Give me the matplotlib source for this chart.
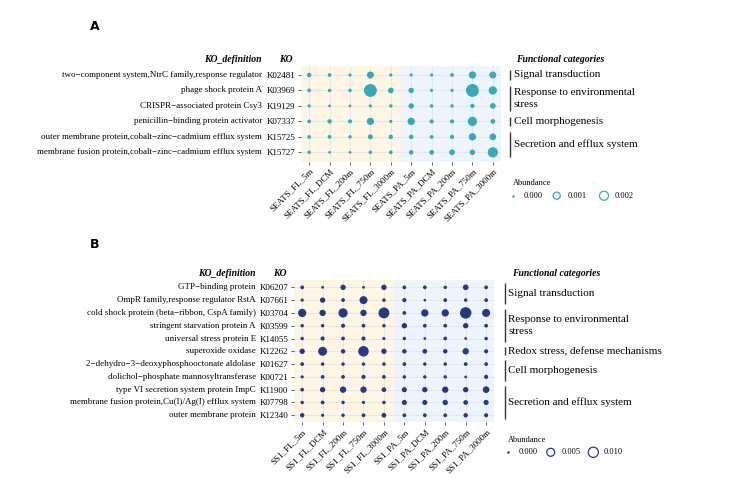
import numpy as np
import matplotlib
matplotlib.use('Agg')
import matplotlib.pyplot as plt
from matplotlib.transforms import blended_transform_factory

plt.rcParams['font.family'] = ['Liberation Serif', 'DejaVu Serif']

# ---- panel A data (abundance, in units of 1e-3) ----
samples_a = ['SEATS_FL_5m', 'SEATS_FL_DCM', 'SEATS_FL_200m', 'SEATS_FL_750m', 'SEATS_FL_3000m',
             'SEATS_PA_5m', 'SEATS_PA_DCM', 'SEATS_PA_200m', 'SEATS_PA_750m', 'SEATS_PA_3000m']
kos_a = ['K02481', 'K03969', 'K19129', 'K07337', 'K15725', 'K15727']
defs_a = ['two\u2212component system,NtrC family,response regulator',
          'phage shock protein A',
          'CRISPR\u2212associated protein Csy3',
          'penicillin\u2212binding protein activator',
          'outer membrane protein,cobalt\u2212zinc\u2212cadmium efflux system',
          'membrane fusion protein,cobalt\u2212zinc\u2212cadmium efflux system']
vals_a = [
    [0.18, 0.075, 0.022, 0.98, 0.022, 0.022, 0.022, 0.075, 1.11, 0.98],
    [0.075, 0.044, 0.044, 5.1, 0.48, 0.40, 0.022, 0.022, 5.1, 1.6],
    [0.022, 0.004, 0.004, 0.022, 0.044, 0.40, 0.044, 0.044, 0.13, 0.48],
    [0.075, 0.18, 0.13, 1.11, 0.022, 1.11, 0.13, 0.13, 2.18, 0.235],
    [0.075, 0.075, 0.044, 0.28, 0.18, 0.18, 0.075, 0.13, 1.11, 0.82],
    [0.044, 0.004, 0.004, 0.044, 0.075, 0.18, 0.235, 0.48, 0.40, 2.84],
]
cats_a = [('Signal transduction', 0, 0),
          ('Response to environmental\nstress', 1, 2),
          ('Cell morphogenesis', 3, 3),
          ('Secretion and efflux system', 4, 5)]
breaks_a = [0.0, 0.001, 0.002]

# ---- panel B data (abundance, in units of 1e-3) ----
samples_b = ['SS1_FL_5m', 'SS1_FL_DCM', 'SS1_FL_200m', 'SS1_FL_750m', 'SS1_FL_3000m',
             'SS1_PA_5m', 'SS1_PA_DCM', 'SS1_PA_200m', 'SS1_PA_750m', 'SS1_PA_3000m']
kos_b = ['K06207', 'K07661', 'K03704', 'K03599', 'K14055', 'K12262',
         'K01627', 'K00721', 'K11900', 'K07798', 'K12340']
defs_b = ['GTP\u2212binding protein',
          'OmpR family,response regulator RstA',
          'cold shock protein (beta\u2212ribbon, CspA family)',
          'stringent starvation protein A',
          'universal stress protein E',
          'superoxide oxidase',
          '2\u2212dehydro\u22123\u2212deoxyphosphooctonate aldolase',
          'dolichol\u2212phosphate mannosyltransferase',
          'type VI secretion system protein ImpC',
          'membrane fusion protein,Cu(I)/Ag(I) efflux system',
          'outer membrane protein']
vals_b = [
    [0.264, 0.014, 1.41, 0.014, 1.41, 0.264, 0.264, 0.156, 1.70, 0.264],
    [0.077, 1.41, 0.264, 5.08, 0.156, 0.45, 0.005, 0.264, 0.156, 0.264],
    [5.6, 2.5, 7.66, 2.5, 11.8, 0.264, 3.9, 3.9, 13.5, 5.08],
    [0.156, 0.156, 0.45, 0.264, 0.156, 1.41, 0.264, 0.264, 1.41, 0.264],
    [0.156, 0.45, 0.264, 0.45, 0.077, 0.156, 0.014, 0.264, 0.014, 0.156],
    [1.41, 7.0, 0.625, 10.8, 1.41, 0.625, 0.83, 0.625, 2.5, 0.45],
    [0.264, 0.156, 0.156, 0.156, 0.156, 0.264, 0.156, 0.156, 0.264, 0.264],
    [0.077, 0.264, 0.264, 0.45, 0.264, 0.156, 0.156, 0.156, 0.014, 0.45],
    [0.264, 1.41, 2.5, 2.5, 0.83, 1.14, 1.41, 2.5, 1.41, 2.89],
    [0.156, 0.264, 0.156, 0.077, 0.156, 1.14, 1.14, 1.41, 0.83, 1.14],
    [0.625, 0.077, 0.156, 0.264, 0.83, 0.264, 0.264, 0.264, 0.625, 0.45],
]
cats_b = [('Signal transduction', 0, 1),
          ('Response to environmental\nstress', 2, 4),
          ('Redox stress, defense mechanisms', 5, 5),
          ('Cell morphogenesis', 6, 7),
          ('Secretion and efflux system', 8, 10)]
breaks_b = [0.0, 0.005, 0.010]

W, H = 734, 483
fig = plt.figure(figsize=(W / 100, H / 100), dpi=100)
ov = fig.add_axes([0, 0, 1, 1], zorder=5)
ov.set_xlim(0, W)
ov.set_ylim(H, 0)
ov.axis('off')

CREAM = '#FDF6E4'
PALE = '#EDF4FB'


def dot_size(v, k):
    # diameter in px grows with sqrt(abundance), converted to points^2
    d = 2.5 + k * np.sqrt(np.asarray(v))
    return (d * 0.72) ** 2


def panel(box, samples, kos, defs, vals, cats, breaks, color, k, lay):
    left, top, right, bottom, ypad = box
    ax = fig.add_axes([left / W, 1 - bottom / H, (right - left) / W, (bottom - top) / H])
    n = len(kos)
    ax.set_xlim(-0.4, len(samples) - 0.6)
    ax.set_ylim(n - 1 + ypad, -ypad)
    ax.axvspan(-0.4, 4.5, color=CREAM, zorder=0, lw=0)
    ax.axvspan(4.5, len(samples) - 0.6, color=PALE, zorder=0, lw=0)
    ax.set_axisbelow(True)
    ax.grid(color='#E4E4E4', lw=0.6)
    ab = np.array(vals) * 1e-3
    xx, yy = np.meshgrid(np.arange(len(samples)), np.arange(n))
    ax.scatter(xx.ravel(), yy.ravel(), s=dot_size(ab.ravel(), k), color=color, lw=0, zorder=3)
    ax.set_xticks(range(len(samples)))
    ax.set_xticklabels(samples, rotation=45, ha='right', va='top', rotation_mode='anchor', fontsize=6.5)
    ax.set_yticks(range(n))
    ax.set_yticklabels(kos, fontsize=6.5)
    ax.tick_params(length=2.5, width=0.6, color='#444444', pad=1.5)
    for s in ax.spines.values():
        s.set_visible(False)

    tr = blended_transform_factory(ov.transData, ax.transData)
    for i, d in enumerate(defs):
        ov.text(lay['def_x'], i, d, transform=tr, ha='right', va='center', fontsize=6.5)
    ov.text(lay['def_x'], lay['head_y'], 'KO_definition', ha='right', va='center',
            fontsize=7, fontweight='bold', fontstyle='italic')
    ov.text(lay['ko_x'], lay['head_y'], 'KO', ha='right', va='center',
            fontsize=7, fontweight='bold', fontstyle='italic')
    ov.text(lay['cat_head_x'], lay['head_y'], 'Functional categories', ha='left', va='center',
            fontsize=7, fontweight='bold', fontstyle='italic')
    for name, r0, r1 in cats:
        ov.plot([lay['bar_x'], lay['bar_x']], [r0 - lay['bar_pad'], r1 + lay['bar_pad']],
                transform=tr, color='#333333', lw=1.0, solid_capstyle='butt')
        ov.text(lay['bar_x'] + 4, (r0 + r1) / 2, name, transform=tr, ha='left', va='center',
                fontsize=8, linespacing=1.4)

    # size legend
    lx, ly = lay['leg']
    ov.text(lx, ly - 12.5, 'Abundance', ha='left', va='center', fontsize=6)
    for b, mx in zip(breaks, lay['leg_x']):
        if b == 0:
            ov.scatter([mx], [ly], s=dot_size(b, k), color=color, lw=0)
        else:
            ov.scatter([mx], [ly], s=dot_size(b, k), facecolor='none', edgecolor=color, lw=0.9)
        ov.text(mx + 10.5, ly, '%.3f' % b, ha='left', va='center', fontsize=6)
    ov.text(lay['letter'][0], lay['letter'][1], lay['name'], ha='center', va='center',
            fontsize=9, fontweight='bold', family='DejaVu Sans')
    return ax


panel((301, 65.7, 501, 161.6, 0.6), samples_a, kos_a, defs_a, vals_a, cats_a, breaks_a,
      '#38A9B7', 145,
      dict(def_x=262, ko_x=293, head_y=60, cat_head_x=516, bar_x=510, bar_pad=0.3,
           leg=(512.7, 195.7), leg_x=[513.3, 556.7, 604], letter=(95, 26), name='A'))

panel((294, 280.3, 494.3, 422.3, 0.55), samples_b, kos_b, defs_b, vals_b, cats_b, breaks_b,
      '#28397F', 77,
      dict(def_x=256, ko_x=287, head_y=274, cat_head_x=511.7, bar_x=504.5, bar_pad=0.3,
           leg=(508.3, 452.3), leg_x=[508.3, 550.7, 593.3], letter=(95, 244), name='B'))

fig.savefig('out.png', dpi=100)
